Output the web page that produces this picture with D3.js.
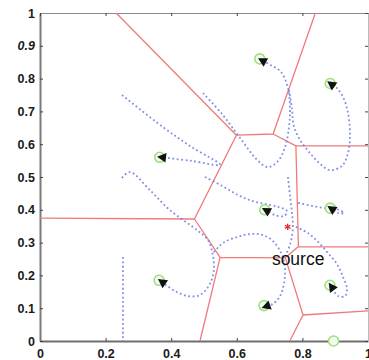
<!DOCTYPE html>
<html>
<head>
<meta charset="utf-8">
<script src="https://cdn.jsdelivr.net/npm/d3@7"></script>
<style>
    body { margin: 0; background: #fff; }
    #voronoi_plot svg { display: block; }
</style>
</head>
<body>
<div id="voronoi_plot"></div>
<script>
// ===========================================================
// DATA
// ===========================================================
var xTicks = [0, 0.2, 0.4, 0.6, 0.8, 1];
var xTickLabels = ["0", "0.2", "0.4", "0.6", "0.8", "1"];
var yTicks = [0, 0.1, 0.2, 0.3, 0.4, 0.5, 0.6, 0.7, 0.8, 0.9, 1];
var yTickLabels = ["0", "0.1", "0.2", "0.3", "0.4", "0.5", "0.6", "0.7", "0.8", "0.9", "1"];

// final agent positions (green rings) = voronoi generators
var sites = [
    [0.670, 0.860],
    [0.885, 0.785],
    [0.365, 0.560],
    [0.685, 0.400],
    [0.885, 0.405],
    [0.363, 0.185],
    [0.683, 0.108],
    [0.884, 0.170],
    [0.895, 0.000]
];

var source = [0.755, 0.348];
var sourceLabel = "source";
var sourceLabelAt = [0.707, 0.232];

// agent trajectories
var trajA = [[0.497, 0.756], [0.555, 0.692], [0.610, 0.619], [0.662, 0.552], [0.695, 0.530],
    [0.726, 0.549], [0.747, 0.591], [0.759, 0.652], [0.762, 0.710], [0.756, 0.771],
    [0.735, 0.820], [0.704, 0.841], [0.678, 0.855]];
var trajF = [[0.759, 0.765], [0.768, 0.710], [0.774, 0.655], [0.793, 0.613], [0.823, 0.573],
    [0.854, 0.540], [0.884, 0.521], [0.921, 0.534], [0.939, 0.573], [0.945, 0.628],
    [0.939, 0.695], [0.924, 0.744], [0.905, 0.771], [0.888, 0.783]];
var trajB = [[0.250, 0.750], [0.375, 0.652], [0.463, 0.591], [0.549, 0.537],
    [0.463, 0.549], [0.372, 0.560]];
var trajC = [[0.250, 0.497], [0.274, 0.515], [0.335, 0.460], [0.396, 0.399], [0.479, 0.338],
    [0.512, 0.308], [0.527, 0.262], [0.530, 0.216], [0.518, 0.174], [0.488, 0.140],
    [0.451, 0.137], [0.412, 0.152], [0.372, 0.180]];
var trajD = [[0.530, 0.271], [0.558, 0.299], [0.601, 0.317], [0.640, 0.326], [0.680, 0.323],
    [0.713, 0.302], [0.738, 0.262], [0.747, 0.223], [0.744, 0.177], [0.732, 0.137],
    [0.710, 0.113], [0.690, 0.106]];
var trajE = [[0.780, 0.348], [0.817, 0.329], [0.848, 0.302], [0.878, 0.268], [0.905, 0.235],
    [0.924, 0.195], [0.936, 0.159], [0.930, 0.137], [0.909, 0.137], [0.889, 0.165]];
var trajG = [[0.503, 0.500], [0.555, 0.473], [0.604, 0.445], [0.646, 0.427], [0.686, 0.418],
    [0.726, 0.409], [0.753, 0.396], [0.744, 0.381], [0.716, 0.384], [0.690, 0.398]];
var trajH = [[0.787, 0.421], [0.829, 0.412], [0.869, 0.405], [0.905, 0.402], [0.927, 0.390],
    [0.909, 0.390], [0.889, 0.403]];
var trajJ = [[0.756, 0.500], [0.762, 0.445], [0.768, 0.393], [0.771, 0.345], [0.762, 0.293],
    [0.747, 0.259]];
var trajK = [[0.253, 0.256], [0.253, 0.000]];

var trajectories = [trajA, trajF, trajB, trajC, trajD, trajE, trajG, trajH, trajJ, trajK];
var trajectoryHasArrow = [true, true, true, true, true, true, true, true, false, false];

// ===========================================================
// SET MARGINS
// ===========================================================
var svgWidth = 369;
var svgHeight = 360;

var margin = { top: 13, right: 1, bottom: 19, left: 40 };

var width = svgWidth - margin.left - margin.right;
var height = svgHeight - margin.top - margin.bottom;

// ===========================================================
// SVG WRAPPER
// ===========================================================
var svg = d3.select('#voronoi_plot')
    .append('svg')
    .attr('width', svgWidth)
    .attr('height', svgHeight);

var chartGroup = svg.append('g')
    .attr('transform', `translate(${margin.left}, ${margin.top})`);

// ===========================================================
// SCALES
// ===========================================================
var x = d3.scaleLinear().domain([0, 1]).range([0, width]);
var y = d3.scaleLinear().domain([0, 1]).range([height, 0]);

// ===========================================================
// AXES (matlab style box, ticks inside)
// ===========================================================
var fontFamily = 'Arial, "Liberation Sans", Helvetica, sans-serif';

function styleAxis(g, stroke, strokeWidth) {
    g.select('.domain').attr('stroke', stroke).attr('stroke-width', strokeWidth);
    g.selectAll('.tick line').attr('stroke', '#444').attr('stroke-width', 1);
    g.selectAll('.tick text')
        .attr('fill', '#1a1a1a')
        .style('font-family', fontFamily)
        .style('font-weight', 'bold')
        .style('font-size', '12.5px');
}

chartGroup.append('g')
    .attr('transform', `translate(0, ${height})`)
    .call(d3.axisBottom(x).tickValues(xTicks)
        .tickFormat((d, i) => xTickLabels[i])
        .tickSizeInner(-3).tickSizeOuter(0).tickPadding(8))
    .call(g => styleAxis(g, '#6e6e6e', 2));

chartGroup.append('g')
    .call(d3.axisLeft(y).tickValues(yTicks)
        .tickFormat((d, i) => yTickLabels[i])
        .tickSizeInner(-3).tickSizeOuter(0).tickPadding(5))
    .call(g => styleAxis(g, '#7a7a7a', 2))
    .selectAll('.tick text')
    .style('font-style', (d, i) => yTickLabels[i] === '0.9' ? 'italic' : 'normal');

chartGroup.append('g')
    .call(d3.axisTop(x).tickValues(xTicks).tickFormat('')
        .tickSizeInner(-3).tickSizeOuter(0))
    .call(g => styleAxis(g, '#8a8a8a', 1.2));

chartGroup.append('g')
    .attr('transform', `translate(${width}, 0)`)
    .call(d3.axisRight(y).tickValues(yTicks).tickFormat('')
        .tickSizeInner(-3).tickSizeOuter(0))
    .call(g => styleAxis(g, '#bbbbbb', 1));

// ===========================================================
// VORONOI CELLS
// ===========================================================
var delaunay = d3.Delaunay.from(sites, d => x(d[0]), d => y(d[1]));
var voronoi = delaunay.voronoi([0, 0, width, height]);

chartGroup.append('path')
    .attr('d', voronoi.render())
    .attr('fill', 'none')
    .attr('stroke', '#f07a7a')
    .attr('stroke-width', 1.3);

// ===========================================================
// TRAJECTORIES
// ===========================================================
var line = d3.line()
    .x(d => x(d[0]))
    .y(d => y(d[1]))
    .curve(d3.curveCatmullRom.alpha(0.5));

chartGroup.append('g')
    .selectAll('path')
    .data(trajectories)
    .enter()
    .append('path')
    .attr('d', d => line(d))
    .attr('fill', 'none')
    .attr('stroke', '#6b7be0')
    .attr('stroke-opacity', 0.85)
    .attr('stroke-width', 1.8)
    .attr('stroke-dasharray', '1.8,2.6');

// ===========================================================
// SITES + ARROWHEADS
// ===========================================================
chartGroup.append('g')
    .selectAll('circle')
    .data(sites)
    .enter()
    .append('circle')
    .attr('cx', d => x(d[0]))
    .attr('cy', d => y(d[1]))
    .attr('r', 5)
    .attr('fill', '#f3fcee')
    .attr('stroke', '#9fe07f')
    .attr('stroke-width', 1.6);

function arrowHead(t) {
    var a = t[t.length - 2], b = t[t.length - 1];
    var ang = Math.atan2(y(b[1]) - y(a[1]), x(b[0]) - x(a[0])) * 180 / Math.PI;
    return `translate(${x(b[0])}, ${y(b[1])}) rotate(${ang})`;
}

chartGroup.append('g')
    .selectAll('path')
    .data(trajectories.filter((t, i) => trajectoryHasArrow[i]))
    .enter()
    .append('path')
    .attr('d', 'M5,0L-4,-4.8L-4,4.8Z')
    .attr('transform', d => arrowHead(d))
    .attr('fill', '#111');

// ===========================================================
// SOURCE
// ===========================================================
chartGroup.append('path')
    .attr('d', d3.symbol(d3.symbolAsterisk, 28)())
    .attr('transform', `translate(${x(source[0])}, ${y(source[1])})`)
    .attr('fill', 'none')
    .attr('stroke', '#e82a2a')
    .attr('stroke-width', 1.4);

chartGroup.append('text')
    .attr('x', x(sourceLabelAt[0]))
    .attr('y', y(sourceLabelAt[1]))
    .text(sourceLabel)
    .style('font-family', fontFamily)
    .style('font-size', '17.5px')
    .attr('fill', '#111');
</script>
</body>
</html>
